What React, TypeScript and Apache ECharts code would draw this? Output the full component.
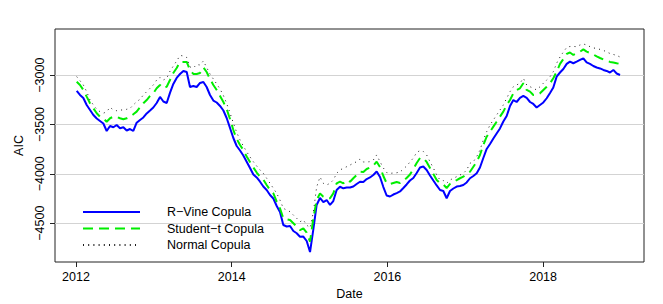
import React, { useEffect, useRef } from "react";
import * as echarts from "echarts";

// Decimal-year dates of the sampled points
const dates = [
  2012.009, 2012.051, 2012.094, 2012.137, 2012.180, 2012.223, 2012.266, 2012.308, 2012.351, 2012.394,
  2012.437, 2012.480, 2012.522, 2012.565, 2012.608, 2012.651, 2012.694, 2012.736, 2012.779, 2012.822,
  2012.865, 2012.908, 2012.951, 2012.993, 2013.036, 2013.079, 2013.122, 2013.165, 2013.207, 2013.250,
  2013.293, 2013.336, 2013.379, 2013.422, 2013.464, 2013.507, 2013.550, 2013.593, 2013.636, 2013.678,
  2013.721, 2013.764, 2013.807, 2013.850, 2013.893, 2013.935, 2013.978, 2014.021, 2014.064, 2014.107,
  2014.149, 2014.192, 2014.235, 2014.278, 2014.321, 2014.364, 2014.406, 2014.449, 2014.492, 2014.535,
  2014.578, 2014.620, 2014.663, 2014.706, 2014.749, 2014.792, 2014.835, 2014.877, 2014.920, 2014.963,
  2015.006, 2015.049, 2015.091, 2015.134, 2015.177, 2015.220, 2015.263, 2015.305, 2015.348, 2015.391,
  2015.434, 2015.477, 2015.520, 2015.562, 2015.605, 2015.648, 2015.691, 2015.734, 2015.776, 2015.819,
  2015.862, 2015.905, 2015.948, 2015.990, 2016.033, 2016.076, 2016.119, 2016.162, 2016.205, 2016.247,
  2016.290, 2016.333, 2016.376, 2016.419, 2016.461, 2016.504, 2016.547, 2016.590, 2016.633, 2016.676,
  2016.718, 2016.761, 2016.804, 2016.847, 2016.890, 2016.932, 2016.975, 2017.018, 2017.061, 2017.104,
  2017.147, 2017.189, 2017.232, 2017.275, 2017.318, 2017.361, 2017.403, 2017.446, 2017.489, 2017.532,
  2017.575, 2017.618, 2017.660, 2017.703, 2017.746, 2017.789, 2017.832, 2017.874, 2017.917, 2017.960,
  2018.003, 2018.046, 2018.089, 2018.131, 2018.174, 2018.217, 2018.260, 2018.303, 2018.345, 2018.388,
  2018.431, 2018.474, 2018.517, 2018.559, 2018.602, 2018.645, 2018.688, 2018.731, 2018.774, 2018.816,
  2018.859, 2018.902, 2018.945, 2018.988,
];

// AIC of the R-Vine copula
const rVine = [
  -3160, -3201, -3231, -3302, -3353, -3404, -3439, -3464, -3490, -3566,
  -3515, -3528, -3505, -3538, -3528, -3561, -3546, -3566, -3482, -3454,
  -3429, -3388, -3358, -3328, -3282, -3221, -3267, -3282, -3180, -3089,
  -3028, -2988, -2957, -2968, -3120, -3110, -3120, -3079, -3069, -3120,
  -3201, -3257, -3277, -3312, -3358, -3434, -3535, -3637, -3718, -3764,
  -3814, -3877, -3941, -4007, -4037, -4080, -4129, -4164, -4215, -4250,
  -4326, -4387, -4519, -4534, -4529, -4580, -4603, -4638, -4636, -4681,
  -4793, -4560, -4316, -4245, -4286, -4266, -4316, -4276, -4164, -4131,
  -4147, -4139, -4139, -4129, -4103, -4080, -4083, -4053, -4037, -4012,
  -3977, -4032, -4134, -4220, -4230, -4210, -4195, -4179, -4144, -4108,
  -4068, -4042, -3992, -3936, -3926, -3961, -4017, -4068, -4118, -4164,
  -4174, -4248, -4174, -4149, -4129, -4124, -4113, -4088, -4045, -4022,
  -3995, -3936, -3840, -3748, -3698, -3642, -3591, -3540, -3470, -3414,
  -3312, -3252, -3272, -3231, -3211, -3231, -3272, -3292, -3328, -3302,
  -3277, -3234, -3180, -3125, -3015, -2973, -2937, -2886, -2863, -2879,
  -2863, -2846, -2829, -2871, -2886, -2907, -2922, -2932, -2947, -2957,
  -2973, -2947, -2983, -2998,
];

// AIC of the Student-t copula
const studentT = [
  -3066, -3099, -3150, -3218, -3285, -3336, -3386, -3421, -3437, -3472,
  -3437, -3421, -3421, -3437, -3447, -3437, -3421, -3396, -3370, -3326,
  -3285, -3252, -3211, -3184, -3133, -3099, -3133, -3117, -3049, -2978,
  -2927, -2866, -2866, -2866, -2947, -2988, -2988, -2978, -2922, -2968,
  -3039, -3099, -3150, -3211, -3272, -3343, -3444, -3556, -3647, -3708,
  -3759, -3824, -3880, -3936, -3987, -4029, -4058, -4113, -4164, -4198,
  -4283, -4350, -4451, -4461, -4468, -4502, -4536, -4570, -4553, -4595,
  -4688, -4448, -4266, -4198, -4232, -4248, -4248, -4198, -4096, -4080,
  -4096, -4063, -4080, -4045, -4012, -3979, -3982, -3951, -3936, -3916,
  -3877, -3931, -4022, -4096, -4103, -4093, -4083, -4093, -4068, -4042,
  -4007, -3951, -3890, -3840, -3840, -3880, -3941, -4002, -4063, -4096,
  -4108, -4144, -4103, -4080, -4063, -4045, -4029, -4002, -3979, -3928,
  -3877, -3809, -3708, -3624, -3573, -3522, -3472, -3421, -3370, -3302,
  -3252, -3184, -3150, -3133, -3082, -3150, -3167, -3201, -3201, -3184,
  -3150, -3117, -3082, -3031, -2965, -2886, -2836, -2785, -2770, -2795,
  -2778, -2762, -2739, -2762, -2775, -2790, -2810, -2826, -2841, -2851,
  -2866, -2871, -2879, -2886,
];

// AIC of the Normal copula
const normalCop = [
  -3015, -3056, -3099, -3167, -3252, -3302, -3346, -3370, -3386, -3370,
  -3326, -3353, -3360, -3353, -3353, -3346, -3336, -3302, -3269, -3244,
  -3201, -3167, -3133, -3099, -3049, -3021, -3049, -3031, -2960, -2907,
  -2856, -2800, -2805, -2821, -2917, -2927, -2892, -2897, -2856, -2922,
  -2988, -3039, -3089, -3140, -3206, -3287, -3383, -3485, -3581, -3657,
  -3718, -3776, -3829, -3877, -3921, -3961, -3995, -4045, -4096, -4147,
  -4198, -4266, -4350, -4367, -4384, -4418, -4451, -4486, -4468, -4519,
  -4549, -4387, -4134, -4032, -4096, -4113, -4096, -4063, -3995, -3961,
  -3944, -3928, -3911, -3893, -3877, -3850, -3880, -3880, -3877, -3860,
  -3809, -3877, -3941, -3987, -3995, -3992, -3989, -3982, -3951, -3921,
  -3880, -3840, -3784, -3764, -3774, -3809, -3877, -3941, -4012, -4063,
  -4068, -4096, -4063, -4045, -4029, -4012, -3995, -3961, -3893, -3877,
  -3826, -3759, -3657, -3573, -3505, -3454, -3404, -3353, -3302, -3234,
  -3167, -3117, -3099, -3082, -3031, -3099, -3117, -3133, -3150, -3117,
  -3082, -3049, -3015, -2965, -2879, -2816, -2765, -2719, -2709, -2709,
  -2711, -2694, -2684, -2694, -2711, -2724, -2729, -2739, -2748, -2765,
  -2780, -2790, -2800, -2816,
];

const xTicks = [2012, 2014, 2016, 2018];
const yTicks = [-4500, -4000, -3500, -3000];
const seriesNames = ["R\u2212Vine Copula", "Student\u2212t Copula", "Normal Copula"];

const FONT = "'Liberation Sans', Arial, Helvetica, sans-serif";

export default function App() {
  const ref = useRef<HTMLDivElement>(null);

  useEffect(() => {
    document.body.style.margin = "0";
    const chart = echarts.init(ref.current!, null, { renderer: "svg" });
    const pair = (vals: number[]) => dates.map((d, i) => [d, vals[i]]);
    chart.setOption({
      animation: false,
      backgroundColor: "#ffffff",
      textStyle: { fontFamily: FONT },
      grid: {
        left: 55,
        top: 29,
        width: 589,
        height: 233,
        show: true,
        borderColor: "#222",
        borderWidth: 1,
        backgroundColor: "transparent",
        containLabel: false,
        outerBoundsMode: "none",
      },
      xAxis: {
        type: "value",
        min: 2011.73,
        max: 2019.296,
        name: "Date",
        nameLocation: "middle",
        nameGap: 24,
        nameTextStyle: { color: "#000", fontSize: 12.5, fontFamily: FONT },
        axisLine: { show: false },
        axisTick: { show: true, length: 5, customValues: xTicks, lineStyle: { color: "#222", width: 1 } },
        axisLabel: {
          customValues: xTicks,
          margin: 8,
          color: "#000",
          fontSize: 12.5,
          fontFamily: FONT,
          formatter: (v: number) => String(Math.round(v)),
        },
        splitLine: { show: false },
      },
      yAxis: {
        type: "value",
        min: -4894,
        max: -2532,
        name: "AIC",
        nameLocation: "middle",
        nameGap: 23,
        nameRotate: 90,
        nameTextStyle: { color: "#000", fontSize: 12.5, fontFamily: FONT },
        axisLine: { show: false },
        axisTick: { show: true, length: 5, customValues: yTicks, lineStyle: { color: "#222", width: 1 } },
        axisLabel: {
          customValues: yTicks,
          rotate: 90,
          margin: 9,
          color: "#000",
          fontSize: 12.5,
          fontFamily: FONT,
          formatter: (v: number) => String(v).replace("-", "\u2212"),
        },
        splitLine: { show: true, lineStyle: { color: "#d3d3d3", width: 1 } },
      },
      legend: {
        orient: "vertical",
        left: 77,
        top: 200,
        padding: 5,
        itemWidth: 57,
        itemHeight: 14,
        itemGap: 2.5,
        selectedMode: false,
        itemStyle: { opacity: 0 },
        textStyle: { color: "#000", fontSize: 12.5, fontFamily: FONT, padding: [0, 0, 0, 22], lineHeight: 14 },
        data: seriesNames,
      },
      series: [
        {
          name: seriesNames[0],
          type: "line",
          data: pair(rVine),
          symbol: "none",
          showSymbol: false,
          silent: true,
          lineStyle: { color: "#0000ff", width: 2, type: "solid" },
          itemStyle: { color: "#0000ff" },
          z: 3,
        },
        {
          name: seriesNames[1],
          type: "line",
          data: pair(studentT),
          symbol: "none",
          showSymbol: false,
          silent: true,
          lineStyle: { color: "#00ee00", width: 2, type: [10, 6] },
          itemStyle: { color: "#00ee00" },
          z: 4,
        },
        {
          name: seriesNames[2],
          type: "line",
          data: pair(normalCop),
          symbol: "none",
          showSymbol: false,
          silent: true,
          lineStyle: { color: "#1a1a1a", width: 1, type: [1, 4.2] },
          itemStyle: { color: "#1a1a1a" },
          z: 5,
        },
      ],
    });
    return () => chart.dispose();
  }, []);

  return <div ref={ref} style={{ width: 663, height: 304 }} />;
}
